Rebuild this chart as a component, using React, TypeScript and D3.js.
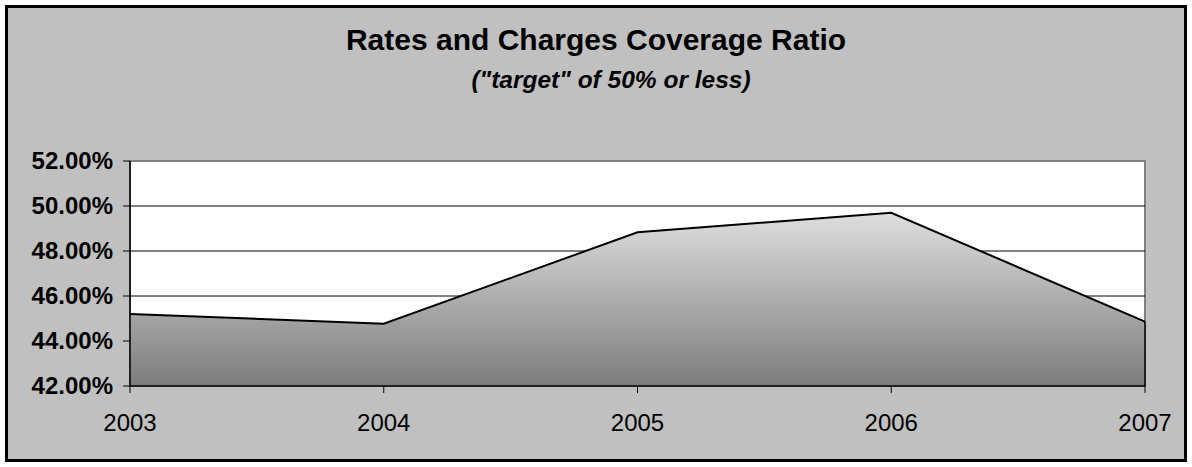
import React from 'react';
import * as d3 from 'd3';

const years = ['2003', '2004', '2005', '2006', '2007'];
const ratios = [0.452, 0.4477, 0.4883, 0.497, 0.4486];
const yTicks = [0.42, 0.44, 0.46, 0.48, 0.5, 0.52];

const W = 1192;
const H = 467;
const plot = { left: 130, right: 1145, top: 161, bottom: 386 };
const font = 'Arial, "Liberation Sans", sans-serif';

export default function App() {
  const x = d3.scalePoint<string>().domain(years).range([plot.left, plot.right]);
  const y = d3.scaleLinear().domain([0.42, 0.52]).range([plot.bottom, plot.top]);

  const pts = years.map((yr, i) => ({ yr, v: ratios[i] }));
  const area = d3.area<{ yr: string; v: number }>()
    .x(d => x(d.yr) as number)
    .y0(y(0.42))
    .y1(d => y(d.v));
  const line = d3.line<{ yr: string; v: number }>()
    .x(d => x(d.yr) as number)
    .y(d => y(d.v));

  const fmt = d3.format('.2%');

  return (
    <svg width={W} height={H} style={{ position: 'absolute', left: 0, top: 0 }} fontFamily={font}>
      <defs>
        <linearGradient id="fill" x1="0" y1="0" x2="0" y2="1">
          <stop offset="0" stopColor="#dedede" />
          <stop offset="1" stopColor="#7c7c7c" />
        </linearGradient>
      </defs>
      <rect x={0} y={0} width={W} height={H} fill="#ffffff" />
      <rect x={6.5} y={6.5} width={1179} height={454} fill="#c0c0c0" stroke="#000" strokeWidth={3} />

      <text x={596} y={50} textAnchor="middle" fontSize={30} fontWeight="bold">
        Rates and Charges Coverage Ratio
      </text>
      <text x={611} y={88} textAnchor="middle" fontSize={24.5} fontWeight="bold" fontStyle="italic">
        ("target" of 50% or less)
      </text>

      {/* plot area */}
      <rect x={plot.left} y={plot.top} width={plot.right - plot.left} height={plot.bottom - plot.top}
        fill="#fff" stroke="#808080" strokeWidth={2} />

      {yTicks.slice(1, -1).map(t => (
        <line key={t} x1={plot.left} x2={plot.right} y1={y(t)} y2={y(t)} stroke="#000" strokeWidth={1} />
      ))}

      <path d={area(pts) || ''} fill="url(#fill)" />
      <path d={line(pts) || ''} fill="none" stroke="#000" strokeWidth={2} strokeLinejoin="miter" />

      {/* axes */}
      <line x1={plot.left} x2={plot.left} y1={plot.top} y2={plot.bottom} stroke="#000" strokeWidth={1.5} />
      <line x1={plot.left} x2={plot.right} y1={plot.bottom} y2={plot.bottom} stroke="#000" strokeWidth={1.5} />
      <line x1={plot.right} x2={plot.right} y1={y(ratios[4])} y2={plot.bottom} stroke="#000" strokeWidth={1.5} />

      {yTicks.map(t => (
        <g key={t}>
          <line x1={plot.left - 7} x2={plot.left} y1={y(t)} y2={y(t)} stroke="#000" strokeWidth={1} />
          <text x={113} y={y(t)} dy="0.35em" textAnchor="end" fontSize={24} fontWeight="bold">
            {fmt(t)}
          </text>
        </g>
      ))}

      {years.map(yr => (
        <g key={yr}>
          <line x1={x(yr)} x2={x(yr)} y1={plot.bottom} y2={plot.bottom + 7} stroke="#000" strokeWidth={1} />
          <text x={x(yr)} y={431} textAnchor="middle" fontSize={24}>
            {yr}
          </text>
        </g>
      ))}
    </svg>
  );
}
